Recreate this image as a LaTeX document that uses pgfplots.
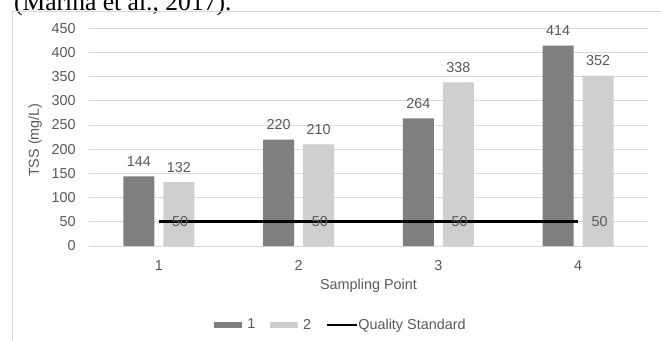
\documentclass[border=0pt]{standalone}
\usepackage{fontspec}
\setmainfont{Liberation Sans}
\newfontfamily\timesfont{Liberation Serif}
\usepackage{pgfplots}
\usepackage{pgfplotstable}
\pgfplotsset{compat=1.18}

\definecolor{barDark}{HTML}{7F7F7F}
\definecolor{barLight}{HTML}{D0CECE}
\definecolor{labelGray}{HTML}{595959}
\definecolor{gridGray}{HTML}{D9D9D9}

% TSS per sampling point: two measurements and the quality standard
\pgfplotstableread{
point s1  s2  std
1     144 132 50
2     220 210 50
3     264 338 50
4     414 352 50
}\tsstable

\begin{document}
\begin{tikzpicture}[x=1pt,y=1pt]
\begin{scope}
\clip (0,0) rectangle (495.75,255);
% caption line of the surrounding text
\node[anchor=base west, inner sep=0pt, font=\timesfont\fontsize{19.2}{22}\selectfont]
  at (10.3,247.1) {(Marina et al., 2017).};
% chart area frame
\draw[gridGray, line width=0.75pt] (9,-10) -- (9,246) -- (510,246);
\begin{axis}[
  at={(66.675pt,70.5pt)}, anchor=south west,
  scale only axis, width=419.4pt, height=163.3pt,
  xmin=0.5, xmax=4.5, ymin=0, ymax=450,
  enlargelimits=false, clip=false,
  xtick={1,2,3,4}, ytick={0,50,...,450},
  ymajorgrids, grid style={gridGray, line width=0.75pt},
  axis line style={draw=none},
  major tick length=0pt, tick style={draw=none},
  font=\fontsize{10.8}{13}\selectfont,
  ticklabel style={labelGray, inner sep=0pt},
  yticklabel style={xshift=-9.7pt},
  xticklabel style={anchor=north, yshift=-11pt},
  /pgf/number format/assume math mode=true,
  xlabel={Sampling Point}, ylabel={TSS (mg/L)},
  label style={labelGray, inner sep=0pt},
  xlabel style={at={(axis description cs:0.5,-0.1837)}, anchor=center},
  ylabel style={at={(axis description cs:-0.0963,0.486)}, anchor=center},
  legend columns=-1,
  legend style={at={(axis description cs:0.449,-0.363)}, anchor=center,
    draw=none, fill=none, text=labelGray, inner sep=0pt,
    font=\fontsize{10.8}{13}\selectfont,
    nodes={inner sep=0pt},
    /tikz/every odd column/.style={column sep=3.75pt},
    /tikz/every even column/.style={column sep=11pt}},
]
\addplot[ybar, bar width=23.25pt, bar shift=-15pt, fill=barDark, draw=none,
  nodes near coords,
  every node near coord/.append style={labelGray, anchor=center, inner sep=0pt,
    xshift=-15pt, yshift=11pt},
  legend image code/.code={\fill[barDark] (0pt,-2.25pt) rectangle (21pt,2.25pt);}]
  table[x=point, y=s1]{\tsstable};
\addlegendentry{1}
\addplot[ybar, bar width=23.25pt, bar shift=15pt, fill=barLight, draw=none,
  nodes near coords,
  every node near coord/.append style={labelGray, anchor=center, inner sep=0pt,
    xshift=15pt, yshift=11pt},
  legend image code/.code={\fill[barLight] (0pt,-2.25pt) rectangle (21pt,2.25pt);}]
  table[x=point, y=s2]{\tsstable};
\addlegendentry{2}
\addplot[black, line width=2pt, mark=none,
  nodes near coords,
  every node near coord/.append style={labelGray, anchor=west, inner sep=0pt, xshift=9pt},
  legend image code/.code={\path[use as bounding box] (0pt,0pt) rectangle (18.75pt,0pt);
    \draw[black, line width=2pt] (0pt,0pt) -- (22.5pt,0pt);}]
  table[x=point, y=std]{\tsstable};
\addlegendentry{Quality Standard}
\end{axis}
\end{scope}
\pgfresetboundingbox
\useasboundingbox (0,0) rectangle (495.75,255);
\end{tikzpicture}
\end{document}
